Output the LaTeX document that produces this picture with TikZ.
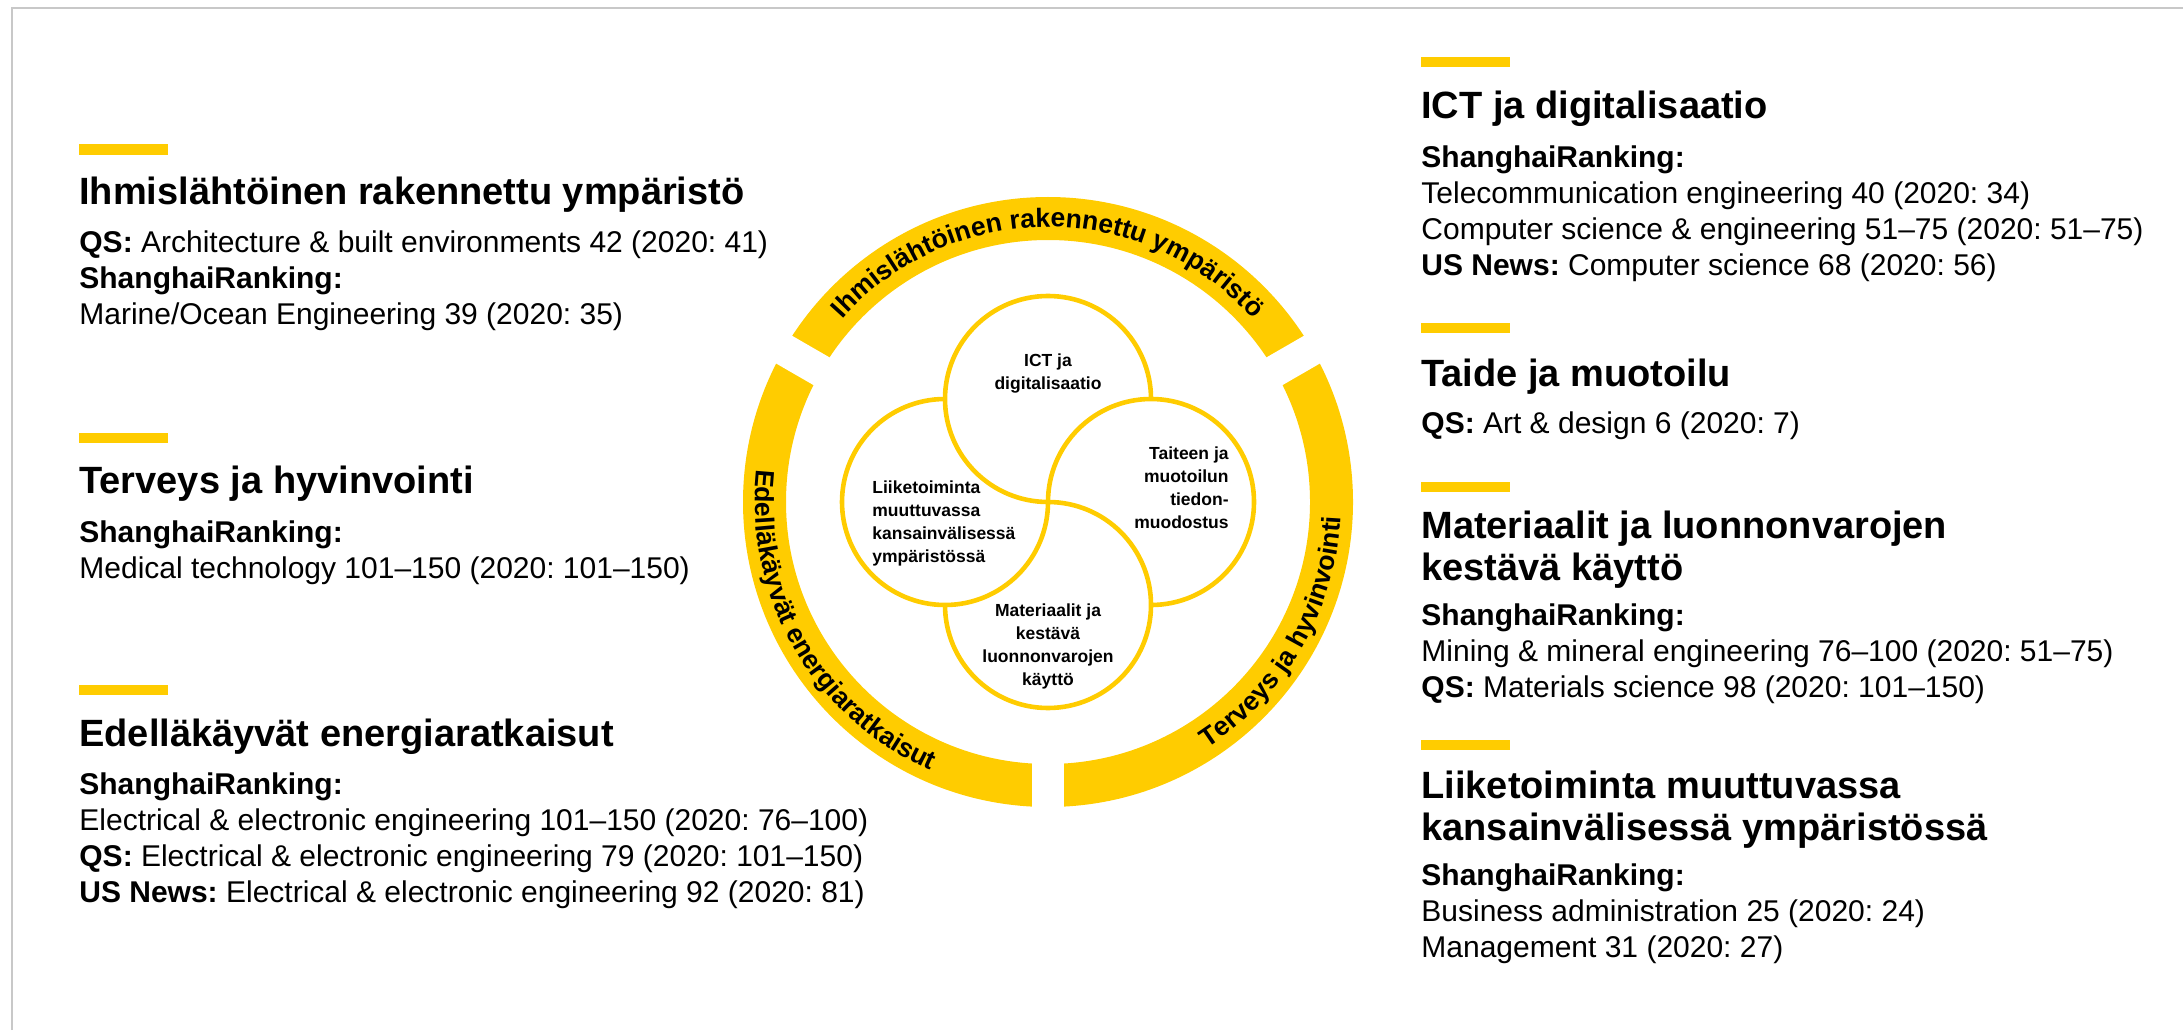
\documentclass[tikz,border=0pt]{standalone}
\usepackage{fontspec}
\setmainfont{Liberation Sans}
\usetikzlibrary{decorations.text}
\definecolor{aaltoyellow}{RGB}{255,204,0}
\definecolor{framegray}{RGB}{200,200,200}
\frenchspacing

\begin{document}
\begin{tikzpicture}[x=0.5pt, y=0.5pt,
    accentbar/.style={fill=aaltoyellow},
    heading/.style={anchor=base west, inner sep=0pt, align=left, font=\bfseries\fontsize{19}{21}\selectfont},
    ranking/.style={anchor=base west, inner sep=0pt, align=left, font=\fontsize{15}{18}\selectfont},
    petal/.style={aaltoyellow, line width=2.3pt},
    petaltext/.style={inner sep=0pt, font=\bfseries\fontsize{8.75}{11.5}\selectfont},
    ringtext/.style={decorate, decoration={text along path, text align=center,
        text={|\bfseries\fontsize{13.25}{15}\selectfont|#1}}}]
    \useasboundingbox (0,0) rectangle (2183,1030);
    \draw[framegray, line width=1pt] (12,0) -- (12,1022) -- (2183,1022);

    % left column (multi-line nodes sit on their last baseline)
    \fill[accentbar] (79,875) rectangle (168,886);
    \node[heading] (ihmis) at (79,825) {Ihmislähtöinen rakennettu ympäristö};
    \node[ranking] (ihmisrank) at (79,705) {\textbf{QS:} Architecture \& built environments 42 (2020: 41)\\\textbf{ShanghaiRanking:}\\Marine/Ocean Engineering 39 (2020: 35)};

    \fill[accentbar] (79,587) rectangle (168,597);
    \node[heading] (terveys) at (79,537) {Terveys ja hyvinvointi};
    \node[ranking] (terveysrank) at (79,452) {\textbf{ShanghaiRanking:}\\Medical technology 101–150 (2020: 101–150)};

    \fill[accentbar] (79,335) rectangle (168,345);
    \node[heading] (energia) at (79,284) {Edelläkäyvät energiaratkaisut};
    \node[ranking] (energiarank) at (79,128) {\textbf{ShanghaiRanking:}\\Electrical \& electronic engineering 101–150 (2020: 76–100)\\\textbf{QS:} Electrical \& electronic engineering 79 (2020: 101–150)\\\textbf{US News:} Electrical \& electronic engineering 92 (2020: 81)};

    % right column
    \fill[accentbar] (1421,963) rectangle (1510,973);
    \node[heading] (ict) at (1421,911) {ICT ja digitalisaatio};
    \node[ranking] (ictrank) at (1421,754) {\textbf{ShanghaiRanking:}\\Telecommunication engineering 40 (2020: 34)\\Computer science \& engineering 51–75 (2020: 51–75)\\\textbf{US News:} Computer science 68 (2020: 56)};

    \fill[accentbar] (1421,697) rectangle (1510,707);
    \node[heading] (taide) at (1421,644) {Taide ja muotoilu};
    \node[ranking] (taiderank) at (1421,597) {\textbf{QS:} Art \& design 6 (2020: 7)};

    \fill[accentbar] (1421,538) rectangle (1510,548);
    \node[heading] (materiaalit) at (1421,450) {Materiaalit ja luonnonvarojen\\kestävä käyttö};
    \node[ranking] (materiaalitrank) at (1421,333) {\textbf{ShanghaiRanking:}\\Mining \& mineral engineering 76–100 (2020: 51–75)\\\textbf{QS:} Materials science 98 (2020: 101–150)};

    \fill[accentbar] (1421,280) rectangle (1510,290);
    \node[heading] (liike) at (1421,190) {Liiketoiminta muuttuvassa\\kansainvälisessä ympäristössä};
    \node[ranking] (liikerank) at (1421,73) {\textbf{ShanghaiRanking:}\\Business administration 25 (2020: 24)\\Management 31 (2020: 27)};

    % ring
    \coordinate (C) at (1048,528);
    \draw[aaltoyellow, line width=21.5pt] (C) circle (283.5);
    \foreach \a in {30,150,270}
        \draw[white, line width=16pt] ([shift={(\a:250)}]C) -- ([shift={(\a:320)}]C);
    \path[ringtext={Ihmislähtöinen rakennettu ympäristö}] ([shift={(150:275)}]C) arc[start angle=150, end angle=30, radius=275];
    \path[ringtext={Edelläkäyvät energiaratkaisut}] ([shift={(150:293)}]C) arc[start angle=150, end angle=270, radius=293];
    \path[ringtext={Terveys ja hyvinvointi}] ([shift={(270:293)}]C) arc[start angle=270, end angle=390, radius=293];

    % petals
    \foreach \a in {0,90,180,270}
        \draw[petal] ([shift={(\a:103)}]C) ++(\a-90:103) arc[start angle=\a-90, delta angle=270, radius=103];
    \node[petaltext, align=center, anchor=base] (ictp) at (1048,641) {ICT ja\\digitalisaatio};
    \node[petaltext, align=right, anchor=base east] (taidep) at (1229,502) {Taiteen ja\\muotoilun\\tiedon-\\muodostus};
    \node[petaltext, align=center, anchor=base] (materiaalitp) at (1048,345) {Materiaalit ja\\kestävä\\luonnonvarojen\\käyttö};
    \node[petaltext, align=left, anchor=base west] (liikep) at (872,468) {Liiketoiminta\\muuttuvassa\\kansainvälisessä\\ympäristössä};
\end{tikzpicture}
\end{document}
